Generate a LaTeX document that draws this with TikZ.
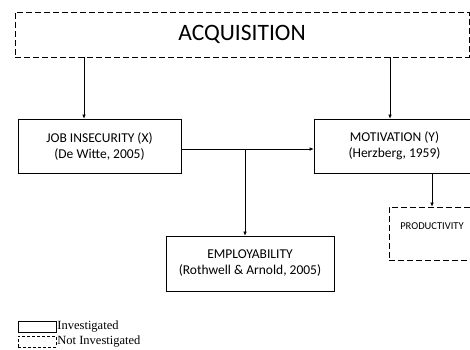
\documentclass[tikz,border=0pt]{standalone}
\usepackage{fontspec}
\setmainfont{Carlito}
\newfontfamily\legendfont{Liberation Serif}
\usetikzlibrary{arrows.meta,positioning}

\begin{document}
\begin{tikzpicture}[x=1pt,y=-1pt,
                box/.style={draw,line width=0.7pt,align=center,font=\fontsize{13.5}{16}\selectfont},
                dashbox/.style={box,dash pattern=on 6pt off 3pt},
                arr/.style={-{Latex[length=4pt,width=3.5pt]},line width=0.6pt}]
                \useasboundingbox (0,0) rectangle (470,349);
                \clip (0,0) rectangle (470,349);
                % variables
                \node[dashbox,minimum width=454pt,minimum height=45pt,font=\fontsize{23.5}{26}\selectfont] (acq) at (242,34.5) {ACQUISITION};
                \node[box,minimum width=163pt,minimum height=54pt] (job) at (99.5,146) {JOB INSECURITY (X)\\(De Witte, 2005)};
                \node[box,minimum width=161pt,minimum height=54pt] (mot) at (394.5,146) {MOTIVATION (Y)\\(Herzberg, 1959)};
                \node[box,minimum width=168pt,minimum height=55pt] (emp) at (250,263.5) {EMPLOYABILITY\\(Rothwell \& Arnold, 2005)};
                \node[dashbox,minimum width=86pt,minimum height=53pt,text depth=15pt,font=\fontsize{10.5}{12}\selectfont] (prod) at (432,233.5) {PRODUCTIVITY};
                % arrows
                \draw[arr] ([xshift=-15.5pt]job.north |- acq.south)--([xshift=-15.5pt]job.north);
                \draw[arr] ([xshift=-4.5pt]mot.north |- acq.south)--([xshift=-4.5pt]mot.north);
                \draw[arr] ([yshift=-3pt]job.east)--([yshift=-3pt]job.east -| mot.west);
                \draw[arr] ([yshift=-3pt]job.east -| emp.north)++(-5,0)--([xshift=-5pt]emp.north);
                \draw[arr] (prod.north |- mot.south)--(prod.north);
                % legend
                \node[draw,line width=0.5pt,minimum width=38pt,minimum height=11pt,inner sep=0pt] (inv) at (37,326.5) {};
                \node[draw,line width=0.5pt,dash pattern=on 3pt off 2pt,minimum width=38pt,minimum height=11pt,inner sep=0pt] (notinv) at (37,341.5) {};
                \node[right=1pt of inv,inner sep=0pt,font=\legendfont\fontsize{12.5}{13}\selectfont] (invtext) {Investigated};
                \node[right=1pt of notinv,inner sep=0pt,font=\legendfont\fontsize{12.5}{13}\selectfont] (notinvtext) {Not Investigated};
            \end{tikzpicture}
\end{document}
